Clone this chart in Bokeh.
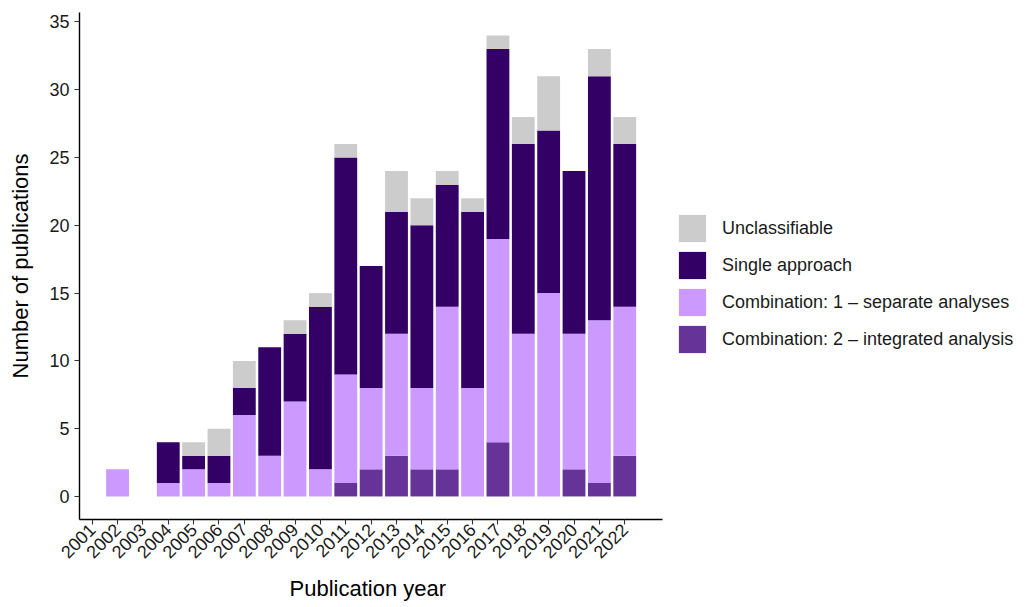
import math
from bokeh.plotting import figure
from bokeh.models import Legend, LegendItem, FixedTicker, Range1d, ColumnDataSource, Title
from bokeh.embed import file_html
from bokeh.resources import INLINE

years = list(range(2001, 2023))
integrated = [0, 0, 0, 0, 0, 0, 0, 0, 0, 0, 1, 2, 3, 2, 2, 0, 4, 0, 0, 2, 1, 3]
separate = [0, 2, 0, 1, 2, 1, 6, 3, 7, 2, 8, 6, 9, 6, 12, 8, 15, 12, 15, 10, 12, 11]
single = [0, 0, 0, 3, 1, 2, 2, 8, 5, 12, 16, 9, 9, 12, 9, 13, 14, 14, 12, 12, 18, 12]
unclassifiable = [0, 0, 0, 0, 1, 2, 2, 0, 1, 1, 1, 0, 3, 2, 1, 1, 1, 2, 4, 0, 2, 2]

series_names = ["integrated", "separate", "single", "unclassifiable"]
series_labels = ["Combination: 2 \u2013 integrated analysis",
                 "Combination: 1 \u2013 separate analyses",
                 "Single approach",
                 "Unclassifiable"]
series_colors = ["#663399", "#CC99FF", "#330066", "#CCCCCC"]
y_ticks = [0, 5, 10, 15, 20, 25, 30, 35]

source = ColumnDataSource(dict(year=years, integrated=integrated, separate=separate,
                               single=single, unclassifiable=unclassifiable))

FONT = "Liberation Sans"

# axis spans 2000.5 .. 2023.5; the frame continues to the right to host the legend
X_START, X_AXIS_END = 2000.5, 2023.5
PX_PER_YEAR = 25.36
FRAME_LEFT, CANVAS_W = 79, 1031
x_end = X_START + (CANVAS_W - FRAME_LEFT) / PX_PER_YEAR

p = figure(width=CANVAS_W, height=607, output_backend="svg", toolbar_location=None,
           x_range=Range1d(X_START, x_end), y_range=Range1d(-1.7, 35.7),
           min_border_left=FRAME_LEFT, min_border_top=12, min_border_bottom=88, min_border_right=0)

renderers = p.vbar_stack(series_names, x="year", width=0.9, source=source,
                         color=series_colors, line_color=None)

p.xgrid.visible = False
p.ygrid.visible = False
p.outline_line_color = None
p.background_fill_color = "white"
p.border_fill_color = "white"

for ax in (p.xaxis[0], p.yaxis[0]):
    ax.axis_line_color = "black"
    ax.axis_line_width = 1.4
    ax.major_tick_line_color = "#333333"
    ax.major_tick_line_width = 1.1
    ax.major_tick_in = 0
    ax.major_tick_out = 5
    ax.minor_tick_line_color = None
    ax.major_label_text_font = FONT
    ax.major_label_text_font_size = "18px"
    ax.major_label_text_color = "#1a1a1a"
    ax.axis_label_text_font = FONT
    ax.axis_label_text_font_size = "22px"
    ax.axis_label_text_font_style = "normal"
    ax.axis_label_text_color = "black"

p.xaxis.bounds = (X_START, X_AXIS_END)
p.xaxis.ticker = FixedTicker(ticks=years)
p.xaxis.major_label_orientation = math.pi / 4
p.xaxis.major_label_standoff = 2

p.yaxis.ticker = FixedTicker(ticks=y_ticks)
p.yaxis.major_label_standoff = 5
p.yaxis.axis_label = "Number of publications"
p.yaxis.axis_label_standoff = 13

# x-axis title, centred under the axis (not under the wider frame)
x_title = Title(text="Publication year", align="left", offset=210, standoff=12,
                text_font=FONT, text_font_size="22px", text_font_style="normal",
                text_color="black")
p.add_layout(x_title, "below")

order = [3, 2, 1, 0]
legend = Legend(items=[LegendItem(label=series_labels[i], renderers=[renderers[i]]) for i in order],
                location=(596, 163), glyph_width=34, glyph_height=34, spacing=3,
                padding=0, margin=0, label_standoff=13,
                label_text_font=FONT, label_text_font_size="18px", label_text_color="#1a1a1a",
                border_line_color=None, background_fill_alpha=0)
p.add_layout(legend, "center")

open("out.html", "w").write(file_html(p, INLINE))
